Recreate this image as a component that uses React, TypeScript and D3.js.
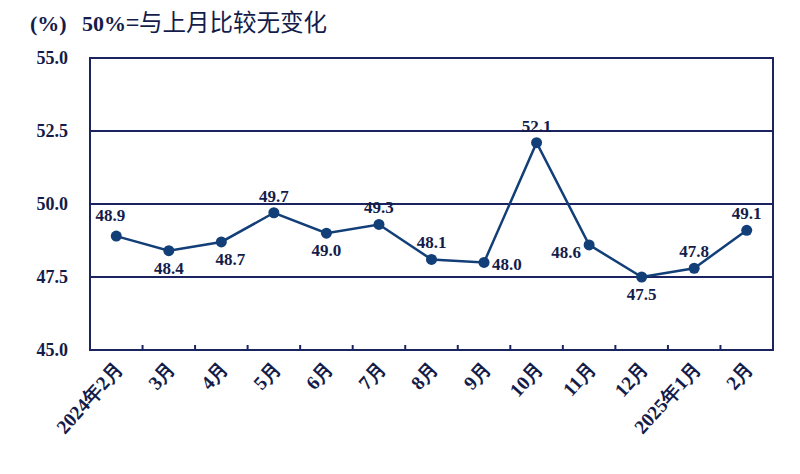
import React from "react";
import * as d3 from "d3";

const categories = ["2024年2月", "3月", "4月", "5月", "6月", "7月", "8月", "9月", "10月", "11月", "12月", "2025年1月", "2月"];
const values = [48.9, 48.4, 48.7, 49.7, 49.0, 49.3, 48.1, 48.0, 52.1, 48.6, 47.5, 47.8, 49.1];
const yTicks = [45.0, 47.5, 50.0, 52.5, 55.0];
const labelPlacement = ["aboveLeft", "below", "belowRight", "above", "below", "above", "above", "right", "above", "left", "below", "above", "above"];

const W = 800, H = 474;
const M = { left: 90, right: 773, top: 58, bottom: 350 };
const NAVY = "#1b2360";
const LINE = "#133f78";
const TEXT = "#141c4a";
const SERIF = "Liberation Serif, Times New Roman, serif";

const serifStyle = { fontFamily: SERIF, fontWeight: 700 } as React.CSSProperties;

export default function App() {
  const x = d3.scaleBand<string>().domain(categories).range([M.left, M.right]).paddingInner(0).paddingOuter(0);
  const y = d3.scaleLinear().domain([45, 55]).range([M.bottom, M.top]);
  const cx = (i: number) => (x(categories[i]) as number) + x.bandwidth() / 2;
  const line = d3.line<number>().x((_, i) => cx(i)).y((d) => y(d));

  const offs: Record<string, [number, number, string]> = {
    aboveLeft: [-6, -15, "middle"],
    above: [0, -11, "middle"],
    below: [0, 23, "middle"],
    belowRight: [9, 23, "middle"],
    right: [8, 8, "start"],
    left: [-8, 13, "end"],
  };

  return (
    <svg width={W} height={H} style={{ position: "absolute", left: 0, top: 0, background: "#fff" }}>
      <rect x={0} y={0} width={W} height={H} fill="#fff" />
      {/* title */}
      <text x={30} y={31} style={{ ...serifStyle, fontSize: 22 }} fill={TEXT}>
        (%)
      </text>
      <text x={82} y={31} fill={TEXT}>
        <tspan style={{ ...serifStyle, fontSize: 22 }}>50%</tspan>
        <tspan style={{ fontFamily: "Noto Sans CJK SC, sans-serif", fontSize: 23.5 }}>=与上月比较无变化</tspan>
      </text>

      {/* grid lines */}
      {yTicks.filter((t) => t > 45 && t < 55).map((t) => (
        <line key={t} x1={M.left} x2={M.right} y1={y(t)} y2={y(t)} stroke={NAVY} strokeWidth={2} />
      ))}
      {/* frame */}
      <rect x={M.left} y={M.top} width={M.right - M.left} height={M.bottom - M.top} fill="none" stroke={NAVY} strokeWidth={2} />
      {/* ticks */}
      {categories.slice(1).map((c) => (
        <line key={c} x1={x(c) as number} x2={x(c) as number} y1={M.bottom} y2={M.bottom - 5} stroke={NAVY} strokeWidth={2} />
      ))}
      {/* y labels */}
      {yTicks.map((t) => (
        <text key={t} x={68} y={y(t)} dy="0.35em" textAnchor="end" style={{ ...serifStyle, fontSize: 18 }} fill={TEXT}>
          {t.toFixed(1)}
        </text>
      ))}
      {/* x labels */}
      {categories.map((c, i) => (
        <text
          key={c}
          transform={`translate(${cx(i) + 8},${M.bottom + 19}) rotate(-48)`}
          textAnchor="end"
          style={{ ...serifStyle, fontSize: 19.5 }}
          fill={TEXT}
        >
          {c}
        </text>
      ))}
      {/* line */}
      <path d={line(values) as string} fill="none" stroke={LINE} strokeWidth={2.5} />
      {values.map((v, i) => (
        <circle key={i} cx={cx(i)} cy={y(v)} r={5.5} fill={LINE} />
      ))}
      {/* value labels */}
      {values.map((v, i) => {
        const [dx, dy, anchor] = offs[labelPlacement[i]];
        return (
          <text key={i} x={cx(i) + dx} y={y(v) + dy} textAnchor={anchor as any} style={{ ...serifStyle, fontSize: 17 }} fill={TEXT}>
            {v.toFixed(1)}
          </text>
        );
      })}
    </svg>
  );
}
